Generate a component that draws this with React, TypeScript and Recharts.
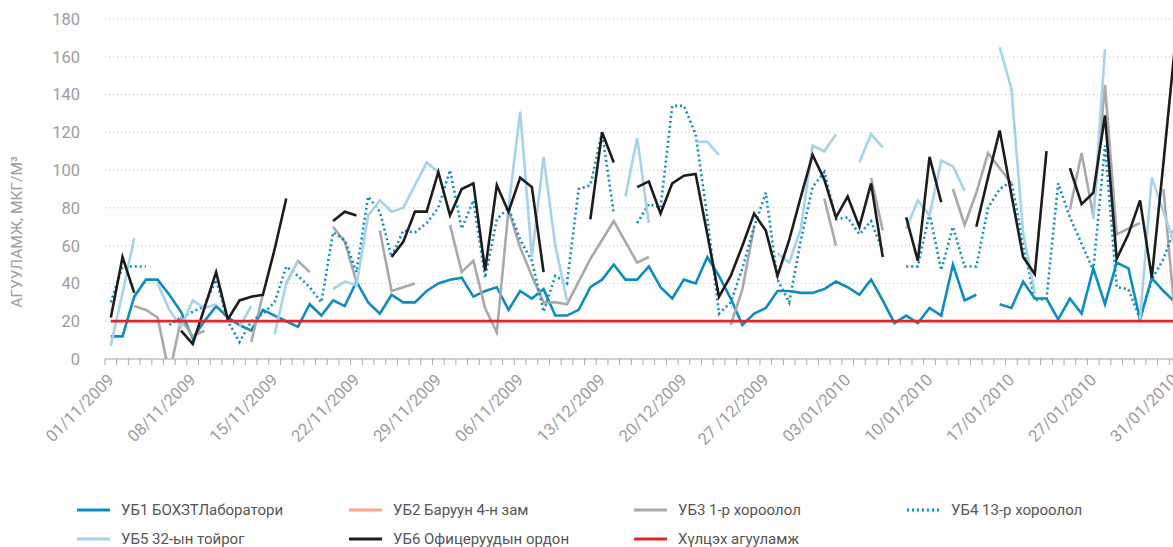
import React from "react";
import {CartesianGrid, Line, LineChart, ReferenceLine, XAxis, YAxis} from "recharts";

// daily categories, 01/11/2009 .. 31/01/2010
const MONTHS = [
    {month: 11, year: 2009, days: 30},
    {month: 12, year: 2009, days: 31},
    {month: 1, year: 2010, days: 31},
];
const pad = (n: number) => (n < 10 ? `0${n}` : `${n}`);
const DATES: string[] = MONTHS.flatMap(({month, year, days}) =>
    Array.from({length: days}, (_, d) => `${pad(d + 1)}/${pad(month)}/${year}`)
);

// labels as printed on the original (every 7th day)
const TICK_LABELS = [
    "01/11/2009", "08/11/2009", "15/11/2009", "22/11/2009", "29/11/2009",
    "06/11/2009", "13/12/2009", "20/12/2009", "27 /12/2009", "03/01/2010",
    "10/01/2010", "17/01/2010", "27/01/2010", "31/01/2010",
];
const TICK_STEP = 7;
const Y_TICKS = [0, 20, 40, 60, 80, 100, 120, 140, 160, 180];
const LIMIT = 20;

const UB1 = [
    12, 12, 33, 42, 42, 34, 25, 11, 20, 28,
    22, 18, 15, 26, 23, 20, 17, 29, 23, 31,
    28, 41, 30, 24, 34, 30, 30, 36, 40, 42,
    43, 33, 36, 38, 26, 36, 32, 37, 23, 23,
    26, 38, 42, 50, 42, 42, 49, 38, 32, 42,
    40, 54, 44, 32, 18, 24, 27, 36, 36, 35,
    35, 37, 41, 38, 34, 42, 31, 19, 23, 19,
    27, 23, 50, 31, 34, null, 29, 27, 41, 32,
    32, 21, 32, 24, 48, 29, 51, 48, 21, 43,
    36, 30,
];
const UB2: (number | null)[] = DATES.map(() => null); // no readings shown
const UB3 = [
    null, null, 28, 26, 22, -8, 21, 12, 15, null,
    null, null, 9, 34, null, 40, 52, 46, null, 70,
    62, 41, null, 68, 36, 38, 40, null, null, 71,
    46, 52, 27, 14, 79, 59, 44, 30, 30, 29,
    41, 53, 63, 73, 62, 51, 54, null, null, null,
    null, null, null, 18, 37, 70, null, null, null, null,
    null, 85, 60, null, null, 96, 68, null, null, null,
    null, null, 90, 71, 88, 109, 101, 93, null, null,
    null, null, 79, 109, 76, 145, 66, 69, 72, null,
    90, 22,
];
const UB4 = [
    30, 49, 49, 49, null, 18, 22, 25, 28, 42,
    20, 9, 20, 24, 30, 49, 44, 38, 30, 67,
    63, 46, 86, 78, 54, 68, 67, 72, 80, 100,
    69, 84, 43, 74, 80, 63, 52, 25, 44, 40,
    90, 92, 120, 77, null, 72, 82, 80, 134, 134,
    119, 75, 24, 30, 48, 70, 88, 42, 30, 63,
    91, 99, 74, 75, 66, 73, 57, null, 49, 49,
    77, 47, 70, 49, 49, 80, 90, 94, 61, 31,
    32, 93, 75, 61, 47, 113, 38, 37, 21, 42,
    53, 70,
];
const UB5 = [
    7, 35, 64, null, 40, 26, 17, 31, 27, 29,
    null, 17, 28, null, 13, 40, 52, null, null, 37,
    41, 39, 76, 84, 78, 80, 92, 104, 99, null,
    null, null, null, null, 80, 131, 54, 107, 60, 31,
    null, null, null, null, 86, 117, 72, null, null, null,
    115, 115, 108, null, null, null, null, 56, 51, 69,
    113, 110, 119, null, 104, 119, 112, null, 69, 84,
    76, 105, 102, 89, null, null, 165, 143, 67, 35,
    null, null, null, null, 74, 164, null, null, 21, 96,
    78, 60,
];
const UB6 = [
    22, 54, 35, null, null, null, 15, 8, 27, 46,
    21, 31, 33, 34, 58, 85, null, null, null, 73,
    78, 76, null, null, 54, 62, 78, 78, 99, 76,
    90, 93, 47, 92, 78, 96, 91, 46, null, null,
    null, 74, 120, 104, null, 91, 94, 77, 93, 97,
    98, 66, 33, 44, 60, 77, 68, 44, 63, 86,
    108, 95, 75, 86, 70, 93, 54, null, 75, 52,
    107, 83, null, null, 70, 96, 121, 87, 54, 45,
    110, null, 101, 82, 88, 129, 53, 66, 84, 43,
    104, 167,
];

const SERIES = [
    {key: "ub1", name: "УБ1 БОХЗТЛаборатори", values: UB1, color: "#0d8dbf", dash: undefined},
    {key: "ub2", name: "УБ2 Баруун 4-н зам", values: UB2, color: "#f8a98c", dash: undefined},
    {key: "ub3", name: "УБ3 1-р хороолол", values: UB3, color: "#a9a9ab", dash: undefined},
    {key: "ub4", name: "УБ4 13-р хороолол", values: UB4, color: "#0d8dbf", dash: "2 3"},
    {key: "ub5", name: "УБ5 32-ын тойрог", values: UB5, color: "#a5d3ea", dash: undefined},
    {key: "ub6", name: "УБ6 Офицеруудын ордон", values: UB6, color: "#1c1c1c", dash: undefined},
];
const LIMIT_NAME = "Хүлцэх агууламж";
const LIMIT_COLOR = "#e5232b";

const rows = DATES.map((date, i) => {
    const row: Record<string, string | number | null> = {date};
    SERIES.forEach(s => { row[s.key] = s.values[i] ?? null; });
    return row;
});

const FONT = "Roboto, 'Open Sans', sans-serif";
const GREY_TEXT = "#9d9d9d";

const DateTick = (props: any) => {
    const {x, y, payload} = props;
    const idx: number = payload.index;
    const half: number = payload.offset ?? 0;
    const axisY = y - 8;
    const label = idx % TICK_STEP === 0 ? TICK_LABELS[idx / TICK_STEP] : null;
    return (
        <g>
            <line x1={x - half} x2={x - half} y1={axisY} y2={axisY + 6} stroke="#aaaaaa" />
            {label && (
                <text
                    transform={`translate(${x + 4},${axisY + 22}) rotate(-45)`}
                    textAnchor="end"
                    fill={GREY_TEXT}
                    fontSize={16.5}
                    fontFamily={FONT}
                >
                    {label}
                </text>
            )}
        </g>
    );
};

const legendPos = [
    {left: 77, top: 510},
    {left: 349, top: 510},
    {left: 634, top: 510},
    {left: 907, top: 510},
    {left: 77, top: 539},
    {left: 349, top: 539},
    {left: 634, top: 539},
];

const LegendItem: React.FC<{name: string, color: string, dash?: string, left: number, top: number}> =
    ({name, color, dash, left, top}) => (
        <div style={{position: "absolute", left, top: top - 10, height: 20, display: "flex", alignItems: "center", whiteSpace: "nowrap"}}>
            <svg width={33} height={6} style={{marginRight: 11}}>
                <line x1={0} x2={33} y1={3} y2={3} stroke={color} strokeWidth={3} strokeDasharray={dash} />
            </svg>
            <span style={{fontFamily: FONT, fontSize: 15, color: "#555"}}>{name}</span>
        </div>
    );

const App: React.FC = () => {
    const legendItems = [
        ...SERIES.map(s => ({name: s.name, color: s.color, dash: s.dash})),
        {name: LIMIT_NAME, color: LIMIT_COLOR, dash: undefined},
    ];
    return (
        <div style={{position: "fixed", left: 0, top: 0, width: 1173, height: 547, overflow: "hidden", background: "#fff"}}>
            <LineChart width={1190} height={470} data={rows} margin={{top: 19, right: 9, bottom: 0, left: 0}}>
                <CartesianGrid vertical={false} stroke="#bdbdbd" strokeDasharray="1 3" />
                <XAxis
                    dataKey="date"
                    scale="band"
                    interval={0}
                    height={111}
                    tickLine={false}
                    tickSize={6}
                    tickMargin={2}
                    axisLine={{stroke: "#aaaaaa"}}
                    tick={<DateTick />}
                />
                <YAxis
                    domain={[0, 180]}
                    ticks={Y_TICKS}
                    allowDataOverflow
                    width={105}
                    axisLine={false}
                    tickLine={false}
                    tickMargin={19}
                    tick={{fill: GREY_TEXT, fontSize: 16.5, fontFamily: FONT}}
                />
                {SERIES.map(s => (
                    <Line
                        key={s.key}
                        dataKey={s.key}
                        name={s.name}
                        type="linear"
                        stroke={s.color}
                        strokeWidth={2.6}
                        strokeDasharray={s.dash}
                        dot={false}
                        activeDot={false}
                        isAnimationActive={false}
                    />
                ))}
                <ReferenceLine
                    segment={[{x: DATES[0], y: LIMIT}, {x: DATES[DATES.length - 1], y: LIMIT}]}
                    stroke={LIMIT_COLOR}
                    strokeWidth={2.8}
                />
            </LineChart>
            <div
                style={{
                    position: "absolute", left: 17, top: 232,
                    transform: "translate(-50%, -50%) rotate(-90deg)",
                    whiteSpace: "nowrap", fontFamily: FONT, fontSize: 15.5, color: GREY_TEXT,
                }}
            >
                АГУУЛАМЖ, МКГ/М³
            </div>
            {legendItems.map((item, i) => (
                <LegendItem key={item.name} {...item} left={legendPos[i].left} top={legendPos[i].top} />
            ))}
        </div>
    );
};

export default App;
